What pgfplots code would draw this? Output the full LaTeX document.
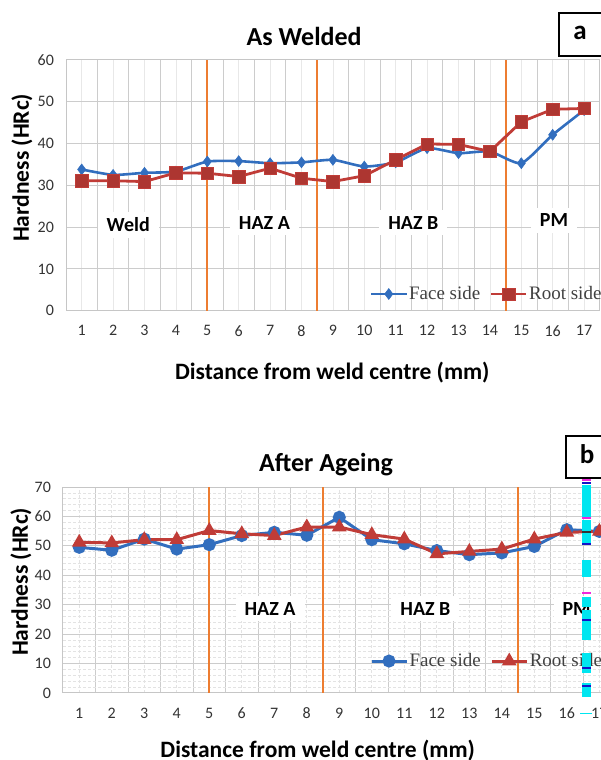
\documentclass[border=0pt]{standalone}
\usepackage{pgfplots}
\pgfplotsset{compat=1.18}
\usepackage{fontspec}
\setmainfont{Carlito}
\newfontfamily\seriffont{Liberation Serif}
\definecolor{fblue}{RGB}{50,110,190}
\definecolor{rred}{RGB}{192,60,55}
\definecolor{zorange}{RGB}{237,125,49}
\definecolor{cyanart}{RGB}{0,230,240}
\definecolor{magart}{RGB}{240,40,220}
\definecolor{navyart}{RGB}{20,20,200}
\tikzset{zone/.style={fill=white, font=\bfseries\fontsize{20}{22}\selectfont, inner xsep=9pt, inner ysep=6pt}}
\pgfplotsset{
  hard/.style={
    scale only axis, clip=false,
    xmin=0.5, xmax=17.5, ymin=0,
    xtick={1,...,17},
    minor xtick={0.5,1.5,...,17.5},
    major tick length=0pt, minor tick length=0pt,
    xmajorgrids=true, xminorgrids=true, ymajorgrids=true,
    major grid style={gray!18, line width=0.8pt},
    minor x grid style={gray!40, line width=1pt},
    y grid style={gray!40, line width=1pt},
    axis line style={gray!45, line width=1pt},
    /pgf/number format/assume math mode=true,
    ticklabel style={font=\fontsize{16}{18}\selectfont, text=black!80},
    xticklabel style={anchor=center, yshift=-20pt},
    yticklabel style={anchor=east, xshift=-8.5pt},
    title style={font=\bfseries\fontsize{26}{28}\selectfont, anchor=center},
    label style={font=\bfseries\fontsize{23.5}{26}\selectfont},
    xlabel style={anchor=center},
    ylabel style={anchor=center},
    legend cell align=left,
    legend style={draw=none, fill=none, inner sep=0pt, outer sep=0pt,
      font=\seriffont\fontsize{19}{20}\selectfont, text=black!75,
      legend columns=2, anchor=west,
      nodes={inner xsep=1.5pt, inner ysep=1pt},
      /tikz/every even column/.append style={column sep=8pt}},
    legend image code/.code={\draw[mark repeat=2,mark phase=2,#1] plot coordinates {(0pt,0pt) (17.5pt,0pt) (35pt,0pt)};},
    zoneline/.style={draw=zorange, line width=1.8pt, mark=none, forget plot},
  }
}
\begin{document}
\begin{tikzpicture}
\path[use as bounding box] (0pt,0pt) rectangle (601pt,760pt);
\clip (0pt,0pt) rectangle (601pt,760pt);
% ---------------- panel a ----------------
\begin{axis}[hard,
  at={(66pt,449.3pt)}, anchor=south west,
  width=533.8pt, height=250.7pt,
  ymax=60, ytick={0,10,...,60},
  title={As Welded},
  title style={at={(rel axis cs:0.446,1.07)}},
  xlabel={Distance from weld centre (mm)},
  xlabel style={at={(rel axis cs:0.499,-0.248)}},
  ylabel={Hardness (HRc)},
  ylabel style={at={(rel axis cs:-0.0824,0.57)}},
  legend style={at={(rel axis cs:0.5695,0.0666)}},
]
\addplot[zoneline] coordinates {(5,0) (5,60)};
\addplot[zoneline] coordinates {(8.5,0) (8.5,60)};
\addplot[zoneline] coordinates {(14.5,0) (14.5,60)};
\node[zone] at (axis cs:2.48,20.5) {Weld};
\node[zone] at (axis cs:6.82,21) {HAZ A};
\node[zone] at (axis cs:11.56,21) {HAZ B};
\node[zone] at (axis cs:16.04,21.7) {PM};
\addplot[fblue, line width=2.6pt, smooth, tension=0.35, mark=diamond*, mark size=5.5pt, mark options={solid, fill=fblue, line width=0.5pt}]
coordinates {(1,33.8)(2,32.5)(3,33.0)(4,33.3)(5,35.7)(6,35.8)(7,35.3)(8,35.5)(9,36.1)(10,34.5)(11,35.5)(12,38.9)(13,37.7)(14,38.1)(15,35.3)(16,42.1)(17,48.0)};
\addlegendentry{Face side}
\addplot[rred, line width=2.8pt, mark=square*, mark size=6.2pt, mark options={solid, fill=rred!90!black, draw=rred, line width=0.5pt}]
coordinates {(1,31.1)(2,31.1)(3,30.9)(4,33.0)(5,32.9)(6,32.1)(7,34.1)(8,31.7)(9,30.9)(10,32.3)(11,36.1)(12,39.9)(13,39.8)(14,38.1)(15,45.2)(16,48.2)(17,48.4)};
\addlegendentry{Root side}
\end{axis}
\draw[line width=1.3pt, fill=white] (559pt,704pt) rectangle (640pt,747pt);
\node[font=\bfseries\fontsize{27}{28}\selectfont] at (580pt,727pt) {a};
% ---------------- panel b ----------------
\begin{axis}[hard,
  at={(63pt,67pt)}, anchor=south west,
  width=552.6pt, height=206pt,
  ymax=70, ytick={0,10,...,70},
  minor y tick num=4, yminorgrids=true,
  minor y grid style={gray!22, line width=0.7pt, dash pattern=on 3pt off 2pt},
  major x grid style={gray!22, line width=0.7pt, dash pattern=on 3pt off 2pt},
  title={After Ageing},
  title style={at={(rel axis cs:0.476,1.08)}},
  xlabel={Distance from weld centre (mm)},
  xlabel style={at={(rel axis cs:0.461,-0.277)}},
  ylabel={Hardness (HRc)},
  ylabel style={at={(rel axis cs:-0.076,0.54)}},
  legend style={at={(rel axis cs:0.5556,0.155)}},
]
\addplot[zoneline] coordinates {(5,0) (5,70)};
\addplot[zoneline] coordinates {(8.5,0) (8.5,70)};
\addplot[zoneline] coordinates {(14.5,0) (14.5,70)};
\node[zone] at (axis cs:6.87,28.6) {HAZ A};
\node[zone] at (axis cs:11.65,28.6) {HAZ B};
\node[zone] at (axis cs:16.3,28.6) {PM};
\addplot[fblue, line width=3pt, mark=*, mark size=5pt, mark options={solid, fill=fblue}]
coordinates {(1,49.5)(2,48.5)(3,52.3)(4,48.9)(5,50.4)(6,53.5)(7,54.6)(8,53.6)(9,59.7)(10,52.1)(11,50.7)(12,48.4)(13,47.0)(14,47.6)(15,49.8)(16,55.5)(17,54.9)};
\addlegendentry{Face side}
\addplot[rred, line width=3pt, mark=triangle*, mark size=5.5pt, mark options={solid, fill=rred}]
coordinates {(1,51.2)(2,51.0)(3,52.1)(4,52.1)(5,55.2)(6,54.1)(7,53.5)(8,56.4)(9,56.4)(10,53.8)(11,52.3)(12,47.3)(13,48.1)(14,48.9)(15,52.3)(16,54.6)(17,54.9)};
\addlegendentry{Root side}
\end{axis}
\draw[line width=1.3pt, fill=white] (566pt,282pt) rectangle (640pt,324pt);
\node[font=\bfseries\fontsize{27}{28}\selectfont] at (587pt,306pt) {b};
% stray vertical artefact of the reference image
\foreach \a/\b in {275/243, 240/215, 200/183, 163/153, 150/120, 107/87, 77/63}
  \fill[cyanart] (581.5pt,\a pt) rectangle (590.5pt,\b pt);
\fill[cyanart] (580pt,46pt) rectangle (592pt,47.2pt);
\foreach \a in {281,243,168}
  \fill[magart] (581.5pt,\a pt) rectangle (590.5pt,\a pt-2.5pt);
\foreach \a in {278,217,141,93,75}
  \fill[navyart] (581.5pt,\a pt) rectangle (590.5pt,\a pt-2.5pt);
\fill[black!80] (581.5pt,229pt) rectangle (590.5pt,227pt);
\end{tikzpicture}
\end{document}
